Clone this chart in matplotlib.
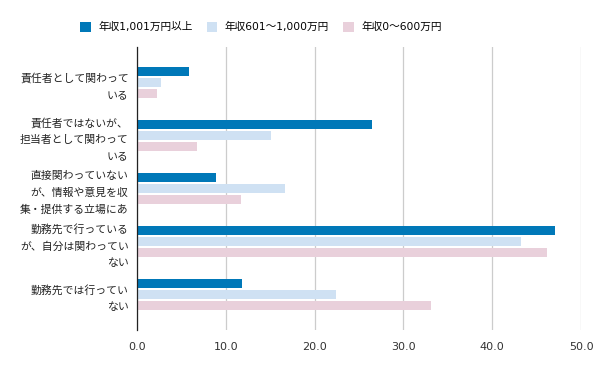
import numpy as np
import matplotlib.pyplot as plt
from matplotlib.patches import Patch

plt.rcParams['font.family'] = ['DejaVu Sans', 'Noto Sans CJK JP']

categories = [
    '責任者として関わって\nいる',
    '責任者ではないが、\n担当者として関わって\nいる',
    '直接関わっていない\nが、情報や意見を収\n集・提供する立場にあ',
    '勤務先で行っている\nが、自分は関わってい\nない',
    '勤務先では行ってい\nない',
]
series_names = ['年収1,001万円以上', '年収601～1,000万円', '年収0～600万円']
high = [5.9, 26.5, 8.9, 47.1, 11.8]
mid = [2.7, 15.1, 16.7, 43.2, 22.4]
low = [2.2, 6.8, 11.7, 46.2, 33.1]
xticks = [0, 10, 20, 30, 40, 50]

colors = ['#0078b8', '#cfe1f3', '#e9d0db']

fig = plt.figure(figsize=(6, 3.71), dpi=100)
ax = fig.add_axes([137 / 600, 1 - 330 / 371, 444 / 600, 283 / 371])

y = np.arange(len(categories))
h = 0.165
off = 0.21
for i, (vals, c) in enumerate(zip([high, mid, low], colors)):
    ax.barh(y + (i - 1) * off, vals, height=h, color=c, zorder=3)

ax.set_ylim(len(categories) - 0.33, -0.67)
ax.set_xlim(0, 50)
ax.set_xticks(xticks)
ax.set_xticklabels([f'{v:.1f}' for v in xticks], fontsize=8, color='#333333')
ax.set_yticks(y)
ax.set_yticklabels(categories, fontsize=7.8, color='#222222', linespacing=1.78,
                   ha='right')
ax.tick_params(axis='both', length=0)
ax.tick_params(axis='x', pad=9)
ax.tick_params(axis='y', pad=6)
ax.grid(axis='x', color='#cccccc', linewidth=0.9, zorder=0)
for s in ['top', 'right', 'bottom']:
    ax.spines[s].set_visible(False)
ax.spines['left'].set_color('#222222')
ax.spines['left'].set_linewidth(0.9)
ax.spines['left'].set_zorder(4)

handles = [Patch(facecolor=c, edgecolor='none') for c in colors]
fig.legend(handles, series_names, loc='center', bbox_to_anchor=(0.435, 1 - 27 / 371),
           ncol=3, frameon=False, fontsize=7.7, handlelength=1.0, handleheight=1.1,
           columnspacing=1.3, handletextpad=0.7)

fig.savefig('out.png', dpi=100)
